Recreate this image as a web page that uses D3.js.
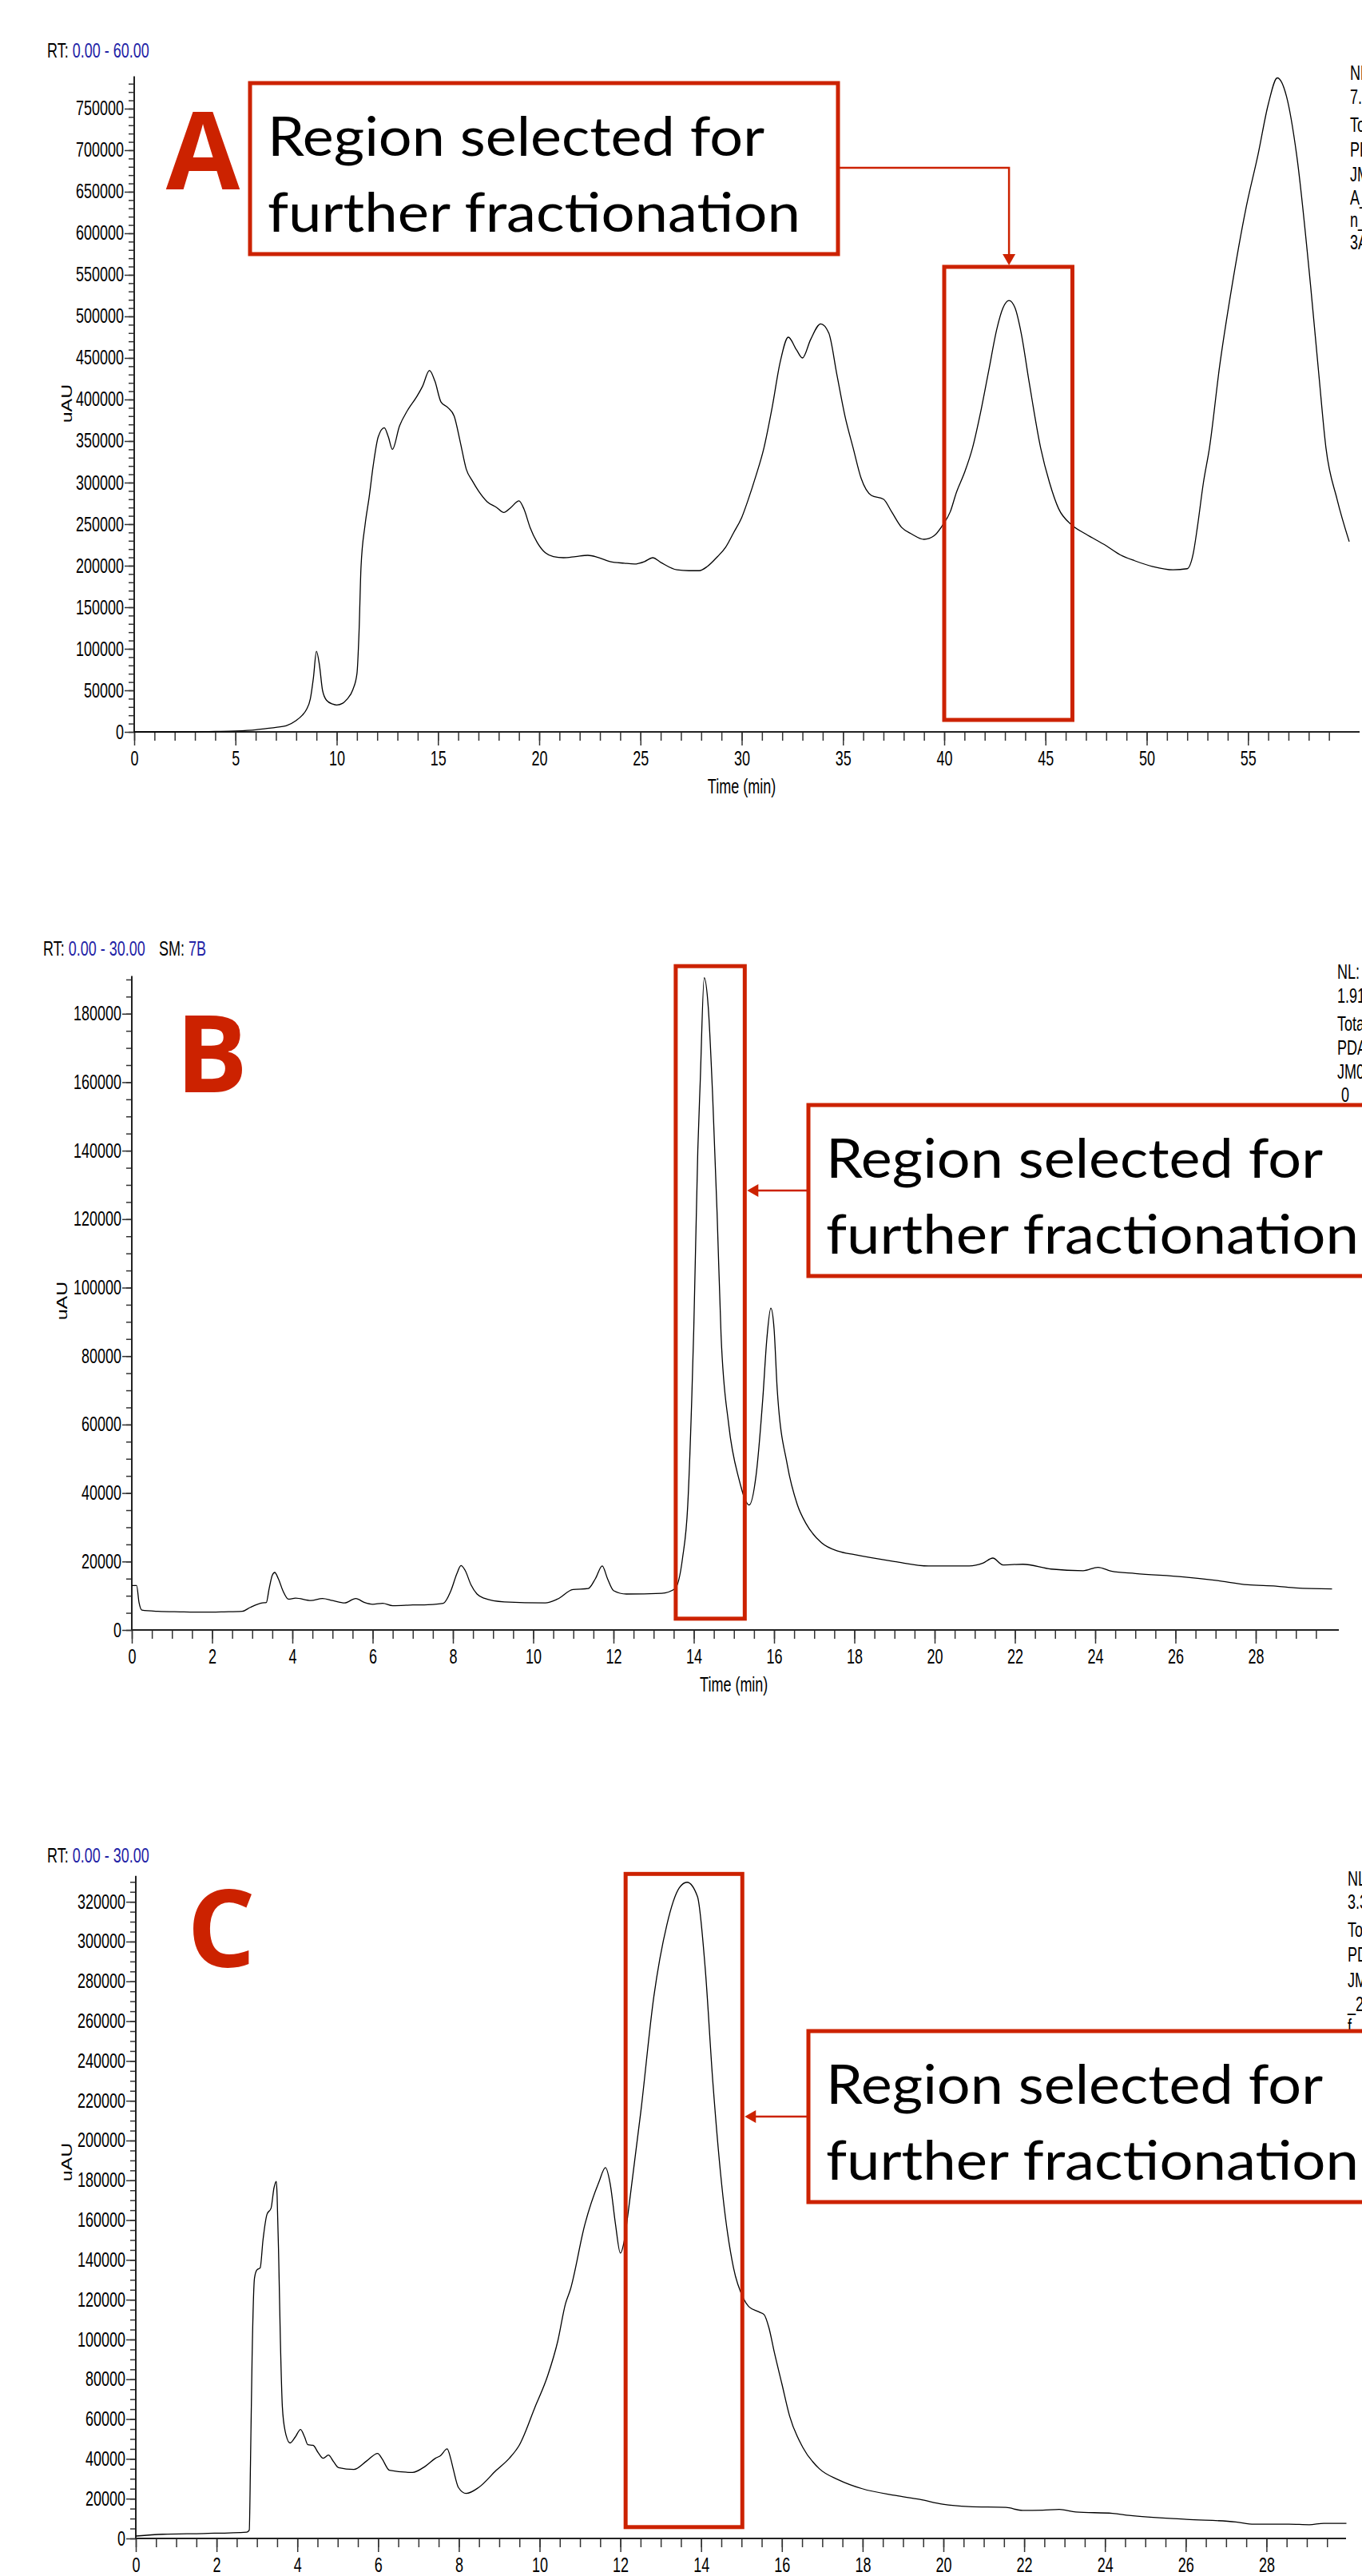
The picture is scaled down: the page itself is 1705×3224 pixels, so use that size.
<!DOCTYPE html>
<html>
<head>
<meta charset="utf-8">
<script src="https://cdn.jsdelivr.net/npm/d3@7"></script>
<style>
body { margin: 0; background: #fff; }
svg { display: block; background: #fff; }
</style>
</head>
<body>
<svg width="1705" height="3224"></svg>
<script>
// Chromatogram A (0 - 60 min)
var timeA = [0, 2, 4, 5, 6, 6.5, 7, 7.5, 8, 8.3, 8.5, 8.7, 8.85, 9.0, 9.15, 9.3, 9.5, 9.8, 10.0, 10.3,
    10.5, 10.8, 11.0, 11.1, 11.2, 11.4, 11.6, 11.8, 12.05, 12.35, 12.55, 12.75, 13.1, 13.5, 13.94, 14.24,
    14.58, 14.85, 15.15, 15.5, 15.8, 16.1, 16.4, 16.7, 17.0, 17.43, 17.9, 18.25, 18.6, 19.0, 19.25, 19.55,
    19.9, 20.3, 20.7, 21.2, 21.8, 22.4, 22.9, 23.5, 24.2, 24.7, 25.2, 25.6, 26.0, 26.8, 27.4, 27.9, 28.3,
    28.8, 29.2, 29.6, 30.0, 30.3, 30.7, 31.1, 31.5, 31.9, 32.3, 32.7, 33.0, 33.4, 33.9, 34.3, 34.7, 35.1,
    35.5, 35.9, 36.4, 37.0, 37.4, 37.9, 38.4, 39.0, 39.5, 39.9, 40.3, 40.6, 41.0, 41.4, 41.8, 42.2, 42.6,
    42.9, 43.2, 43.5, 43.8, 44.2, 44.76, 45.2, 45.65, 46.3, 47.0, 48.0, 48.7, 49.4, 50.3, 51.3, 52.0, 52.3,
    52.5, 52.8, 53.1, 53.6, 54.2, 54.9, 55.5, 56.0, 56.45, 56.9, 57.4, 58.1, 58.5, 58.85, 59.4, 60.0];
var valueA = [0, 0, 500, 1000, 2500, 4000, 5500, 7400, 13700, 20000, 26600, 40000, 65000, 97000, 80000, 50000, 38000, 33500, 32400, 34500,
    39000, 51000, 70000, 118000, 198000, 249000, 282000, 320000, 355000, 366000, 355000, 340000, 368000, 387000, 403000, 416000,
    435000, 422000, 397000, 390000, 380000, 349000, 316000, 302000, 290000, 277000, 270000, 264000, 270000, 278000, 268000, 246000,
    228000, 215600, 211000, 209600, 211000, 212500, 210000, 205000, 203000, 202000, 205000, 209600, 204000, 195000, 194000, 194000, 199000,
    210800, 222000, 239700, 258000, 278000, 308000, 342000, 390000, 445000, 475000, 460000, 450000, 472000, 491000, 480000, 430000, 380000,
    342000, 305000, 284600, 280000, 265000, 246000, 238000, 231700, 236000, 248000, 265000, 288000, 312000, 342000, 385000, 435000, 485000,
    510000, 519000, 510000, 480000, 420000, 342000, 300000, 268600, 249000, 238000, 224000, 213000, 206000, 199000, 195000, 196400, 215000,
    246000, 300000, 342000, 440000, 535000, 630000, 695000, 755000, 787000, 765000, 695000, 535000, 430000, 342000, 280000, 229000];

// Chromatogram B (0 - 30 min)
var timeB = [0, 0.12, 0.18, 0.25, 0.65, 1.2, 1.8, 2.3, 2.75, 2.95, 3.25, 3.35, 3.42, 3.5, 3.56, 3.65, 3.77, 3.9, 4.08, 4.46,
    4.75, 5.0, 5.3, 5.58, 5.8, 6.0, 6.25, 6.5, 7.0, 7.38, 7.76, 7.95, 8.1, 8.2, 8.3, 8.45, 8.6, 8.77, 9.28, 10.3,
    10.6, 10.99, 11.37, 11.55, 11.72, 11.85, 12.0, 12.32, 13.2, 13.53, 13.72, 13.85, 13.95, 14.0, 14.1, 14.16, 14.26, 14.36, 14.47, 14.58,
    14.68, 14.87, 15.12, 15.38, 15.55, 15.72, 15.82, 15.92, 16.0, 16.08, 16.33, 16.58, 16.8, 17.18, 17.6, 18.0, 19.0, 19.85, 20.86, 21.2,
    21.45, 21.7, 22.2, 22.9, 23.7, 24.07, 24.4, 25.0, 26.2, 27.0, 27.8, 28.5, 29.0, 29.9];
var valueB = [13000, 13000, 8000, 5800, 5450, 5300, 5200, 5300, 5450, 6600, 7900, 8000, 12000, 16000, 16800, 15000, 11300, 9000, 9300, 8600,
    9200, 8600, 7900, 9200, 8000, 7500, 7800, 7100, 7300, 7400, 7800, 11500, 16500, 18800, 17500, 13200, 10500, 9300, 8200, 7900,
    9000, 11800, 12100, 15000, 18700, 15000, 11500, 10500, 10700, 12000, 21000, 36500, 67700, 88000, 140000, 160000, 190500, 182000, 156000, 122000,
    86000, 60000, 44300, 36500, 45000, 67700, 85000, 94000, 88000, 70000, 48200, 36600, 31000, 25500, 23000, 22000, 20000, 18700, 18700, 19500,
    21000, 19000, 19200, 17800, 17300, 18300, 17200, 16500, 15500, 14500, 13200, 12800, 12300, 12000];

// Chromatogram C (0 - 30 min)
var timeC = [0, 0.67, 1.68, 2.75, 2.81, 2.84, 2.88, 2.94, 3.0, 3.08, 3.15, 3.25, 3.35, 3.42, 3.48, 3.5, 3.54, 3.58, 3.63, 3.7,
    3.82, 3.95, 4.08, 4.18, 4.26, 4.39, 4.52, 4.64, 4.77, 4.9, 5.02, 5.4, 5.72, 5.99, 6.1, 6.28, 6.85, 7.17, 7.42, 7.55,
    7.71, 7.8, 7.86, 7.99, 8.18, 8.49, 8.93, 9.25, 9.5, 9.88, 10.2, 10.45, 10.64, 10.76, 11.12, 11.47, 11.63, 11.75, 11.88, 12.0,
    12.1, 12.2, 12.51, 12.83, 13.15, 13.46, 13.65, 13.91, 14.1, 14.29, 14.54, 14.8, 15.05, 15.18, 15.43, 15.56, 15.68, 15.81, 16.0, 16.19,
    16.52, 16.93, 17.39, 17.99, 18.81, 19.42, 19.98, 20.63, 21.55, 21.96, 22.46, 22.87, 23.28, 24.19, 24.6, 26.02, 27.24, 27.69, 28.56, 29.06,
    29.42, 29.98];
var valueC = [1200, 2100, 2500, 3200, 4200, 37700, 91000, 131000, 135000, 136000, 150000, 163000, 166000, 176000, 179500, 172000, 140000, 100000, 66000, 53800,
    48000, 51000, 54800, 51000, 47100, 46800, 43000, 40300, 41900, 38500, 35600, 34700, 39000, 42700, 40000, 34300, 33200, 36300, 40300, 41700,
    45000, 40000, 35000, 25600, 22600, 25600, 34300, 40300, 47000, 65700, 81800, 99200, 117900, 125000, 157800, 179200, 186400, 178000, 157800, 143400,
    150000, 164900, 215100, 272500, 308300, 327000, 329800, 322600, 286800, 229400, 172000, 136200, 120600, 116500, 113900, 112500, 105800, 93800, 77700, 61600,
    45700, 35000, 29600, 25000, 21600, 19600, 17200, 16000, 15600, 14100, 14200, 14600, 13300, 12600, 11600, 9600, 8300, 7200, 7200, 6900,
    7600, 7600];

// tick labels
var xLabelsA = [0, 5, 10, 15, 20, 25, 30, 35, 40, 45, 50, 55];
var yLabelsA = [0, 50000, 100000, 150000, 200000, 250000, 300000, 350000, 400000, 450000, 500000, 550000, 600000, 650000, 700000, 750000];
var xLabelsBC = [0, 2, 4, 6, 8, 10, 12, 14, 16, 18, 20, 22, 24, 26, 28];
var yLabelsB = [0, 20000, 40000, 60000, 80000, 100000, 120000, 140000, 160000, 180000];
var yLabelsC = [0, 20000, 40000, 60000, 80000, 100000, 120000, 140000, 160000, 180000, 200000, 220000, 240000, 260000, 280000, 300000, 320000];

// selected regions [t0, t1, bottom, top]
var regionA = [40, 46.33, 14400, 559600];
var regionB = [13.55, 15.27, 3300, 193900];
var regionC = [12.13, 15.02, 5700, 334000];

var nlA = ["NL:", "7.89E5", "Total Scan", "PDA", "JM", "A_", "n_", "3A"];
var nlB = ["NL:", "1.91E5", "Total Scan", "PDA", "JM0", "\u00a00 _"];
var nlC = ["NL:", "3.30E5", "Total Scan", "PDA", "JM", "_2", "f"];

var svg = d3.select("svg");
var red = "#cc2200",
    blue = "#2222a6";
var plotFont = '"Liberation Sans", Arial, sans-serif';
var squash = 0.72; // the instrument text is horizontally compressed

// compress text horizontally, keeping its anchor where it was
function squeeze(sel) {
    sel.each(function() {
        var t = d3.select(this);
        var x0 = +t.attr("x") || 0;
        t.attr("x", x0 / squash).attr("transform", "scale(" + squash + ",1)");
    });
}

var panels = [
    { letter: "A", time: timeA, value: valueA, xMax: 60, xLeft: 168, xRight: 1689, axisEnd: 1702,
      yMax: 789000, yBase: 916, yTop: 95.4, xStep: 1, yStep: 10000,
      xLabels: xLabelsA, yLabels: yLabelsA, region: regionA, nl: nlA,
      rt: "60.00", rtX: 59, rtY: 72, sm: null, unitY: 505, unitX: 84, showTime: true,
      letterX: 254, letterY: 237,
      nlX: 1690, nlY: [100, 130, 165, 196, 227, 256, 284, 312],
      callout: { x: 313, y: 104, w: 736, h: 214 } },
    { letter: "B", time: timeB, value: valueB, xMax: 30, xLeft: 165, xRight: 1672.5, axisEnd: 1676,
      yMax: 191000, yBase: 2040, yTop: 1221.6, xStep: 0.5, yStep: 5000,
      xLabels: xLabelsBC, yLabels: yLabelsB, region: regionB, nl: nlB,
      rt: "30.00", rtX: 54, rtY: 1196, sm: "7B", unitY: 1628, unitX: 78, showTime: true,
      letterX: 265, letterY: 1367,
      nlX: 1674, nlY: [1225, 1255, 1290, 1320, 1350, 1379],
      callout: { x: 1012, y: 1383, w: 740, h: 214 } },
    { letter: "C", time: timeC, value: valueC, xMax: 30, xLeft: 170, xRight: 1686.5, axisEnd: 1685,
      yMax: 333000, yBase: 3177, yTop: 2347.8, xStep: 0.5, yStep: 5000,
      xLabels: xLabelsBC, yLabels: yLabelsC, region: regionC, nl: nlC,
      rt: "30.00", rtX: 59, rtY: 2331, sm: null, unitY: 2706, unitX: 84, showTime: false,
      letterX: 277, letterY: 2462,
      nlX: 1687, nlY: [2360, 2389, 2424, 2455, 2487, 2517, 2545],
      callout: { x: 1012, y: 2542, w: 740, h: 214 } }
];

panels.forEach(drawPanel);

function drawPanel(p) {
    var x = d3.scaleLinear().domain([0, p.xMax]).range([p.xLeft, p.xRight]);
    var y = d3.scaleLinear().domain([0, p.yMax]).range([p.yBase, p.yTop]);
    var g = svg.append("g");

    // header
    var rt = g.append("text")
        .attr("x", p.rtX).attr("y", p.rtY)
        .attr("font-family", plotFont).attr("font-size", 25);
    rt.append("tspan").attr("fill", "#000").text("RT: ");
    rt.append("tspan").attr("fill", blue).text("0.00 - " + p.rt);
    rt.call(squeeze);
    if (p.sm) {
        var sm = g.append("text")
            .attr("x", 199).attr("y", p.rtY)
            .attr("font-family", plotFont).attr("font-size", 25);
        sm.append("tspan").attr("fill", "#000").text("SM: ");
        sm.append("tspan").attr("fill", blue).text(p.sm);
        sm.call(squeeze);
    }

    // axes: minor ticks, then labelled ticks
    var xMinor = d3.range(0, p.xMax, p.xStep);
    var yMinor = d3.range(0, p.yMax, p.yStep);

    g.append("g").attr("class", "axis")
        .attr("transform", "translate(0," + p.yBase + ")")
        .call(d3.axisBottom(x).tickValues(xMinor).tickSize(11).tickFormat(""));
    g.append("g").attr("class", "axis")
        .attr("transform", "translate(0," + p.yBase + ")")
        .call(d3.axisBottom(x).tickValues(p.xLabels).tickSize(17).tickPadding(7).tickFormat(d3.format("d")));
    g.append("g").attr("class", "axis")
        .attr("transform", "translate(" + p.xLeft + ",0)")
        .call(d3.axisLeft(y).tickValues(yMinor).tickSize(7).tickFormat(""));
    g.append("g").attr("class", "axis")
        .attr("transform", "translate(" + p.xLeft + ",0)")
        .call(d3.axisLeft(y).tickValues(p.yLabels).tickSize(12).tickPadding(1).tickFormat(d3.format("d")));

    g.selectAll(".axis .domain").remove();
    g.selectAll(".axis .tick line").attr("stroke", "#333").attr("stroke-width", 1.5);
    g.selectAll(".axis text")
        .attr("font-family", plotFont)
        .attr("font-size", 25)
        .attr("fill", "#000")
        .call(squeeze);

    g.append("line")
        .attr("x1", p.xLeft).attr("x2", p.axisEnd)
        .attr("y1", p.yBase).attr("y2", p.yBase)
        .attr("stroke", "#222").attr("stroke-width", 2);
    g.append("line")
        .attr("x1", p.xLeft).attr("x2", p.xLeft)
        .attr("y1", p.yBase).attr("y2", p.yTop)
        .attr("stroke", "#222").attr("stroke-width", 2);

    if (p.showTime) {
        g.append("text")
            .attr("x", x(p.xMax / 2)).attr("y", p.yBase + 77)
            .attr("text-anchor", "middle")
            .attr("font-family", plotFont).attr("font-size", 25)
            .text("Time (min)")
            .call(squeeze);
    }

    g.append("text")
        .attr("transform", "translate(" + p.unitX + "," + p.unitY + ") scale(" + squash + ",1) rotate(-90)")
        .attr("text-anchor", "middle")
        .attr("dominant-baseline", "central")
        .attr("font-family", plotFont)
        .attr("font-size", 25)
        .text("uAU");

    // trace
    var line = d3.line()
        .x(function(d) { return x(d[0]); })
        .y(function(d) { return y(d[1]); })
        .curve(d3.curveMonotoneX);

    g.append("path")
        .datum(d3.zip(p.time, p.value))
        .attr("d", line)
        .attr("fill", "none")
        .attr("stroke", "#000")
        .attr("stroke-width", 1.3);

    // selected region
    var r = p.region;
    g.append("rect")
        .attr("x", x(r[0]))
        .attr("y", y(r[3]))
        .attr("width", x(r[1]) - x(r[0]))
        .attr("height", y(r[2]) - y(r[3]))
        .attr("fill", "none")
        .attr("stroke", red)
        .attr("stroke-width", 5);

    // NL block at the right edge
    p.nl.forEach(function(s, i) {
        g.append("text")
            .attr("x", p.nlX).attr("y", p.nlY[i])
            .attr("font-family", plotFont).attr("font-size", 25)
            .text(s)
            .call(squeeze);
    });

    // callout
    var c = p.callout;
    g.append("rect")
        .attr("x", c.x).attr("y", c.y)
        .attr("width", c.w).attr("height", c.h)
        .attr("fill", "#fff")
        .attr("stroke", red)
        .attr("stroke-width", 5);
    g.append("text")
        .attr("x", c.x + 22).attr("y", c.y + 91)
        .attr("font-family", "Lato, 'Open Sans', sans-serif").attr("font-size", 68)
        .attr("textLength", 622).attr("lengthAdjust", "spacingAndGlyphs")
        .text("Region selected for");
    g.append("text")
        .attr("x", c.x + 22).attr("y", c.y + 186)
        .attr("font-family", "Lato, 'Open Sans', sans-serif").attr("font-size", 68)
        .attr("textLength", 667).attr("lengthAdjust", "spacingAndGlyphs")
        .text("further fractionation");

    // arrow from callout to the region
    var arrow, head;
    if (p.letter == "A") {
        var ax = x(43.2), ay = 210, tipY = y(r[3]) - 2;
        arrow = "M" + (c.x + c.w) + "," + ay + "H" + ax + "V" + (tipY - 13);
        head = [[ax - 8, tipY - 14], [ax + 8, tipY - 14], [ax, tipY]];
    } else {
        var ay2 = c.y + 107, tipX = x(r[1]) + 3;
        arrow = "M" + c.x + "," + ay2 + "H" + (tipX + 13);
        head = [[tipX + 14, ay2 - 8], [tipX + 14, ay2 + 8], [tipX, ay2]];
    }
    g.append("path")
        .attr("d", arrow)
        .attr("fill", "none")
        .attr("stroke", red)
        .attr("stroke-width", 2.5);
    g.append("polygon")
        .attr("points", head.map(function(q) { return q.join(","); }).join(" "))
        .attr("fill", red);

    // panel letter
    g.append("text")
        .attr("x", p.letterX).attr("y", p.letterY)
        .attr("text-anchor", "middle")
        .attr("font-family", "'Open Sans', Lato, sans-serif")
        .attr("font-weight", "bold")
        .attr("font-size", 134)
        .attr("fill", red)
        .text(p.letter);
}
</script>
</body>
</html>
